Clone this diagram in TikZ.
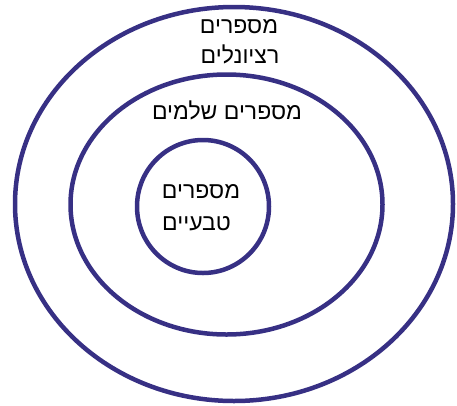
\documentclass[tikz,border=0pt]{standalone}
\usepackage{fontspec}
\TeXXeTstate=1
\newfontfamily\heb[Script=Hebrew]{Liberation Sans}
\definecolor{ringblue}{RGB}{55,48,132}
\tikzset{
  ring/.style={draw=ringblue, line width=4.5pt},
  lbl/.style={font=\heb\fontsize{23}{28}\selectfont, inner sep=0pt, text=black}
}
\begin{document}
\begin{tikzpicture}[x=1pt,y=-1pt]
\useasboundingbox (0,0) rectangle (457,405);
\draw[ring] (234,204) ellipse [x radius=219, y radius=197];
\draw[ring] (226.5,204.5) ellipse [x radius=156, y radius=130];
\draw[ring] (203,206.5) ellipse [x radius=66, y radius=66.5];
\node[lbl, anchor=base] (rat1) at (239,33) {\beginR מספרים\endR};
\node[lbl, anchor=base] (rat2) at (240,63) {\beginR רציונלים\endR};
\node[lbl, anchor=base] (int) at (227,119) {\beginR מספרים שלמים\endR};
\node[lbl, anchor=base] (nat1) at (201,198) {\beginR מספרים\endR};
\node[lbl, anchor=base west] (nat2) at (162,230) {\beginR טבעיים\endR};
\end{tikzpicture}
\end{document}
